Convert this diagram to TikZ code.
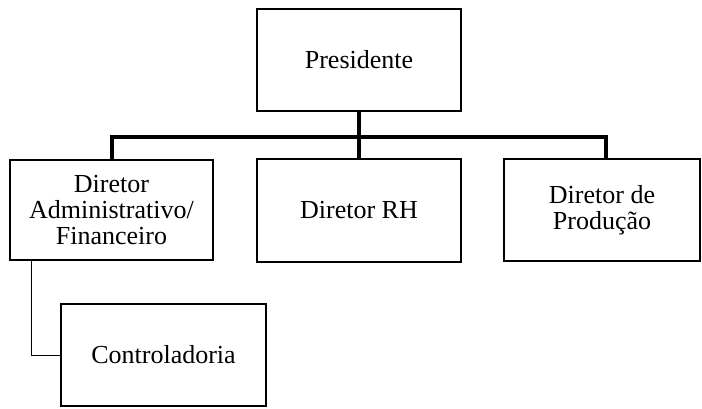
\documentclass[tikz,border=0pt]{standalone}
\usepackage{fontspec}
\setmainfont{Liberation Serif}
\begin{document}
\begin{tikzpicture}[x=1pt,y=-1pt,
  orgbox/.style={draw, line width=2.6pt, rectangle, align=center,
    inner sep=0pt, font=\fontsize{26}{26}\selectfont},
  trunk/.style={line width=3.4pt},
  branch/.style={line width=1pt}]
  \useasboundingbox (0,0) rectangle (702,408);
  \fill[white] (0,0) rectangle (702,408);

  % org chart boxes (centre, width, height)
  \node[orgbox, minimum width=204pt, minimum height=102pt] (pres) at (359,60) {Presidente};
  \node[orgbox, minimum width=203pt, minimum height=100pt] (adm) at (111.5,210) {Diretor\\Administrativo/\\Financeiro};
  \node[orgbox, minimum width=204pt, minimum height=103pt] (rh) at (359,210.5) {Diretor RH};
  \node[orgbox, minimum width=196pt, minimum height=102pt] (prod) at (602,210) {Diretor de\\Produção};
  \node[orgbox, minimum width=205pt, minimum height=102pt] (ctrl) at (163.5,355) {Controladoria};

  % main hierarchy
  \coordinate (bar) at (359,137);
  \draw[trunk] (pres.south) -- (rh.north);
  \draw[trunk] ([xshift=0.5pt]adm.north) |- (bar) -| ([xshift=4pt]prod.north);

  % staff link to controller
  \coordinate (drop) at (31,260);
  \draw[branch] (drop) |- (ctrl.west);
\end{tikzpicture}
\end{document}
